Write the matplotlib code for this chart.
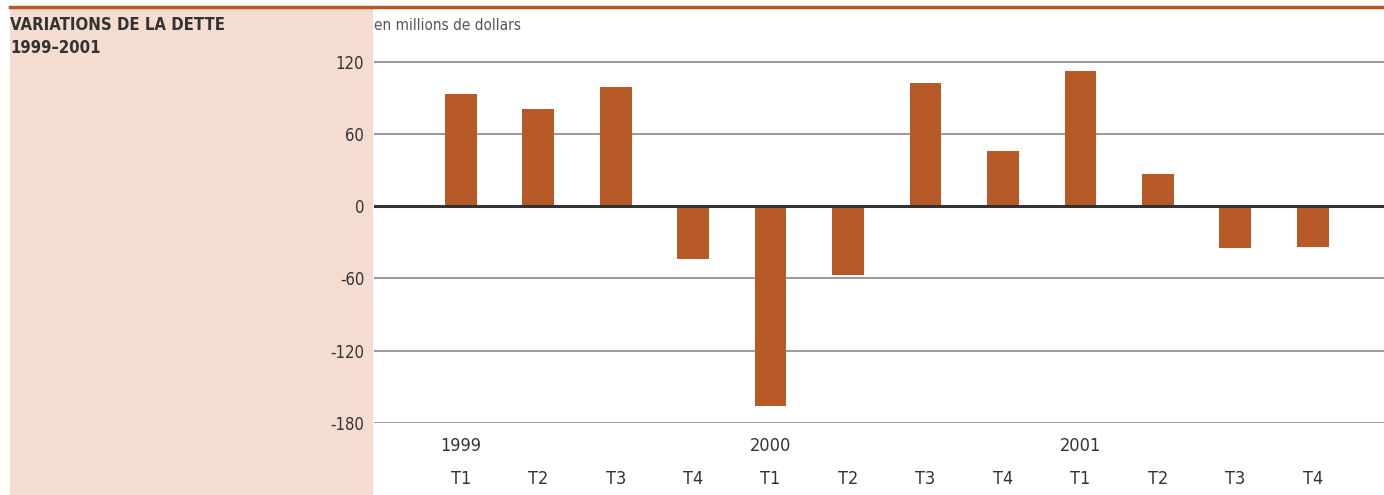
import matplotlib
matplotlib.use("Agg")
import matplotlib.pyplot as plt
from matplotlib.patches import Rectangle

plt.rcParams["font.family"] = ["DejaVu Sans"]
plt.rcParams["font.stretch"] = "condensed"

quarters = ["T1", "T2", "T3", "T4"] * 3
years = {0: "1999", 4: "2000", 8: "2001"}
values = [93, 81, 99, -44, -166, -57, 102, 46, 112, 27, -35, -34]
yticks = [120, 60, 0, -60, -120, -180]

orange = "#b85a28"
pink = "#f4ddd0"
txt = "#333333"

W, H = 1384, 495
fig = plt.figure(figsize=(W / 100, H / 100), dpi=100)

# left pink panel and top rule
fig.patches.append(Rectangle((10 / W, 0), 363 / W, 1 - 8 / H, transform=fig.transFigure,
                             facecolor=pink, edgecolor="none", zorder=-10))
fig.add_artist(plt.Line2D([10 / W, 1], [1 - 7 / H, 1 - 7 / H], color=orange, lw=2.5))

fig.text(10 / W, 1 - 25 / H, "VARIATIONS DE LA DETTE", fontsize=12, color=txt,
         va="center", ha="left", fontweight="semibold")
fig.text(10 / W, 1 - 48 / H, "1999\u20132001", fontsize=12, color=txt,
         va="center", ha="left", fontweight="semibold")
fig.text(374 / W, 1 - 26 / H, "en millions de dollars", fontsize=11, color="#555555",
         va="center", ha="left")

ax = fig.add_axes([374 / W, 72 / H, 1010 / W, 383 / H])
ax.set_facecolor("none")
x = list(range(len(values)))
ax.bar(x, values, width=0.41, color=orange, zorder=3)
for t in yticks:
    if t == 0:
        ax.axhline(0, color="#333333", lw=2.2, zorder=4)
    else:
        ax.axhline(t, color="#888888", lw=1.2, zorder=1)
ax.set_ylim(-180, 138)
ax.set_xlim(-1.12, 11.92)
for s in ax.spines.values():
    s.set_visible(False)
ax.set_yticks(yticks)
ax.set_yticklabels([str(t) for t in yticks], fontsize=12, color=txt)
ax.tick_params(axis="y", length=0, pad=7)
ax.set_xticks(x)
ax.set_xticklabels(quarters, fontsize=13, color=txt)
ax.tick_params(axis="x", length=0, pad=34)
for i, yr in years.items():
    ax.text(i, -199, yr, ha="center", va="center", fontsize=13, color=txt)

fig.savefig("out.png", dpi=100)
